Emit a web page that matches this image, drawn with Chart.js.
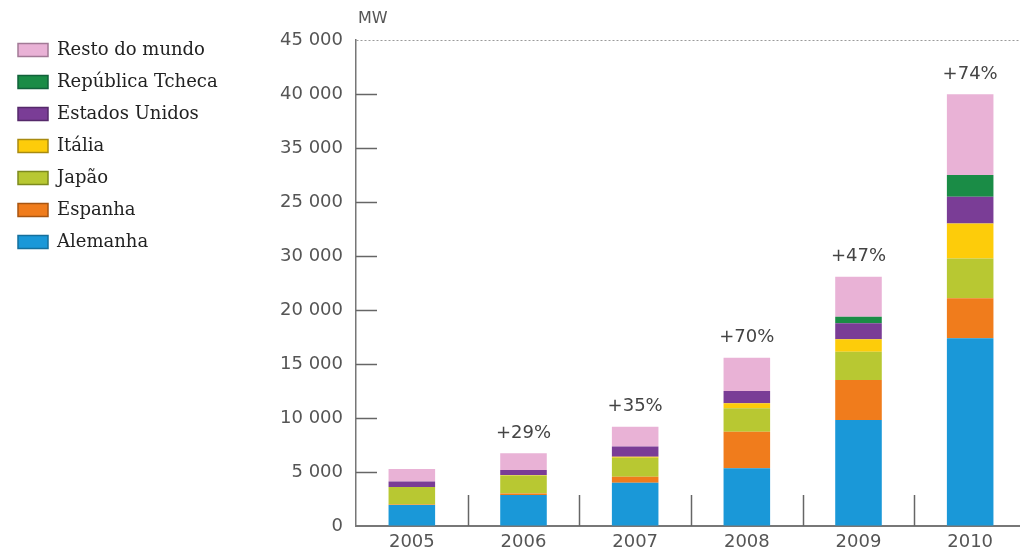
<!DOCTYPE html>
<html>
<head>
<meta charset="utf-8">
<script src="https://cdn.jsdelivr.net/npm/chart.js@4.4.1/dist/chart.umd.min.js"></script>
<style>
  html, body { margin: 0; padding: 0; background: #fff; overflow: hidden; }
  #wrap { width: 1026px; height: 556px; position: relative; }
</style>
</head>
<body>
<div id="wrap"><canvas id="c"></canvas></div>
<script>
// Installed photovoltaic capacity (MW), by country, 2005–2010
const years = ['2005', '2006', '2007', '2008', '2009', '2010'];

const alemanha        = [1950, 2870, 4010, 5340, 9820, 17380];
const espanha         = [50, 150, 560, 3390, 3700, 3700];
const japao           = [1620, 1650, 1750, 2170, 2620, 3700];
const italia          = [0, 50, 100, 460, 1150, 3240];
const estadosUnidos   = [500, 470, 930, 1140, 1480, 2460];
const republicaTcheca = [0, 0, 0, 0, 600, 2010];
const restoDoMundo    = [1150, 1540, 1850, 3090, 3720, 7480];

// Year-on-year growth printed above each column
const growth = ['', '+29%', '+35%', '+70%', '+47%', '+74%'];

// Value-axis labels, from 0 upwards in steps of 5 000
const yTickLabels = ['0', '5 000', '10 000', '15 000', '20 000', '30 000', '25 000', '35 000', '40 000', '45 000'];
const unitLabel = 'MW';

const series = [
  { label: 'Alemanha',         data: alemanha,        color: '#1a98d8', edge: '#156f9c' },
  { label: 'Espanha',          data: espanha,         color: '#f07c1c', edge: '#a85510' },
  { label: 'Japão',            data: japao,           color: '#b8c832', edge: '#7d8a1e' },
  { label: 'Itália',           data: italia,          color: '#fdcc0a', edge: '#a88a10' },
  { label: 'Estados Unidos',   data: estadosUnidos,   color: '#7a3d96', edge: '#55296a' },
  { label: 'República Tcheca', data: republicaTcheca, color: '#1a8c46', edge: '#11613a' },
  { label: 'Resto do mundo',   data: restoDoMundo,    color: '#e9b2d6', edge: '#a27a96' }
];

const AXIS_LEFT = 356;
const PLOT_TOP = 40;

// Inner tick marks, category separators, growth labels and unit caption
const decorations = {
  id: 'decorations',
  afterDraw(chart) {
    const { ctx, chartArea, scales: { x, y } } = chart;
    ctx.save();
    ctx.strokeStyle = '#666';
    ctx.lineWidth = 1.5;
    y.ticks.forEach(t => {
      if (t.value <= y.min || t.value >= y.max) return;
      const py = Math.round(y.getPixelForValue(t.value)) + 0.5;
      ctx.beginPath();
      ctx.moveTo(chartArea.left, py);
      ctx.lineTo(chartArea.left + 21, py);
      ctx.stroke();
    });
    const half = (x.getPixelForValue(1) - x.getPixelForValue(0)) / 2;
    for (let i = 1; i < years.length; i++) {
      const px = Math.round(x.getPixelForValue(i) - half) + 0.5;
      ctx.beginPath();
      ctx.moveTo(px, chartArea.bottom);
      ctx.lineTo(px, chartArea.bottom - 31);
      ctx.stroke();
    }
    ctx.font = '18px "DejaVu Sans"';
    ctx.fillStyle = '#444';
    ctx.textAlign = 'center';
    ctx.textBaseline = 'middle';
    years.forEach((yr, i) => {
      if (!growth[i]) return;
      const total = series.reduce((s, d) => s + d.data[i], 0);
      ctx.fillText(growth[i], x.getPixelForValue(i), y.getPixelForValue(total) - 20);
    });
    ctx.font = '16px "DejaVu Sans"';
    ctx.fillStyle = '#555';
    ctx.textAlign = 'left';
    ctx.fillText(unitLabel, chartArea.left + 2, chartArea.top - 21);
    ctx.restore();
  }
};

new Chart(document.getElementById('c'), {
  type: 'bar',
  data: {
    labels: years,
    datasets: series.map(s => ({
      label: s.label,
      data: s.data,
      backgroundColor: s.color,
      borderWidth: 0,
      categoryPercentage: 1,
      barPercentage: 0.417
    }))
  },
  options: {
    responsive: true,
    maintainAspectRatio: false,
    animation: false,
    layout: { padding: { left: 4, top: 27, right: 0, bottom: 0 } },
    plugins: {
      tooltip: { enabled: false },
      legend: {
        position: 'left',
        align: 'start',
        reverse: true,
        labels: {
          boxWidth: 30,
          boxHeight: 13,
          padding: 14,
          color: '#222',
          font: { family: '"DejaVu Serif"', size: 18 },
          generateLabels(chart) {
            const items = Chart.defaults.plugins.legend.labels.generateLabels(chart);
            items.forEach(it => {
              it.strokeStyle = series[it.datasetIndex].edge;
              it.lineWidth = 1.5;
            });
            return items;
          }
        }
      }
    },
    scales: {
      x: {
        stacked: true,
        offset: true,
        grid: { display: false, drawTicks: false },
        border: { display: true, color: '#777', width: 2 },
        ticks: {
          padding: 6,
          color: '#555',
          font: { family: '"DejaVu Sans"', size: 18 }
        },
        afterFit(scale) { scale.height = 30; }
      },
      y: {
        stacked: true,
        min: 0,
        max: 45000,
        grid: {
          drawTicks: false,
          color: ctx => (ctx.tick && ctx.tick.value === 45000) ? '#9a9a9a' : 'rgba(0,0,0,0)',
          lineWidth: 1
        },
        border: { display: true, color: '#777', width: 1.5, dash: [2, 2] },
        ticks: {
          stepSize: 5000,
          padding: 13,
          color: '#555',
          font: { family: '"DejaVu Sans"', size: 18 },
          callback: v => yTickLabels[Math.round(v / 5000)]
        },
        afterFit(scale) {
          const lw = scale.chart.legend ? scale.chart.legend.width : 0;
          scale.width = AXIS_LEFT - 4 - lw;
          scale.paddingTop = PLOT_TOP;
        }
      }
    }
  },
  plugins: [decorations]
});
</script>
</body>
</html>
